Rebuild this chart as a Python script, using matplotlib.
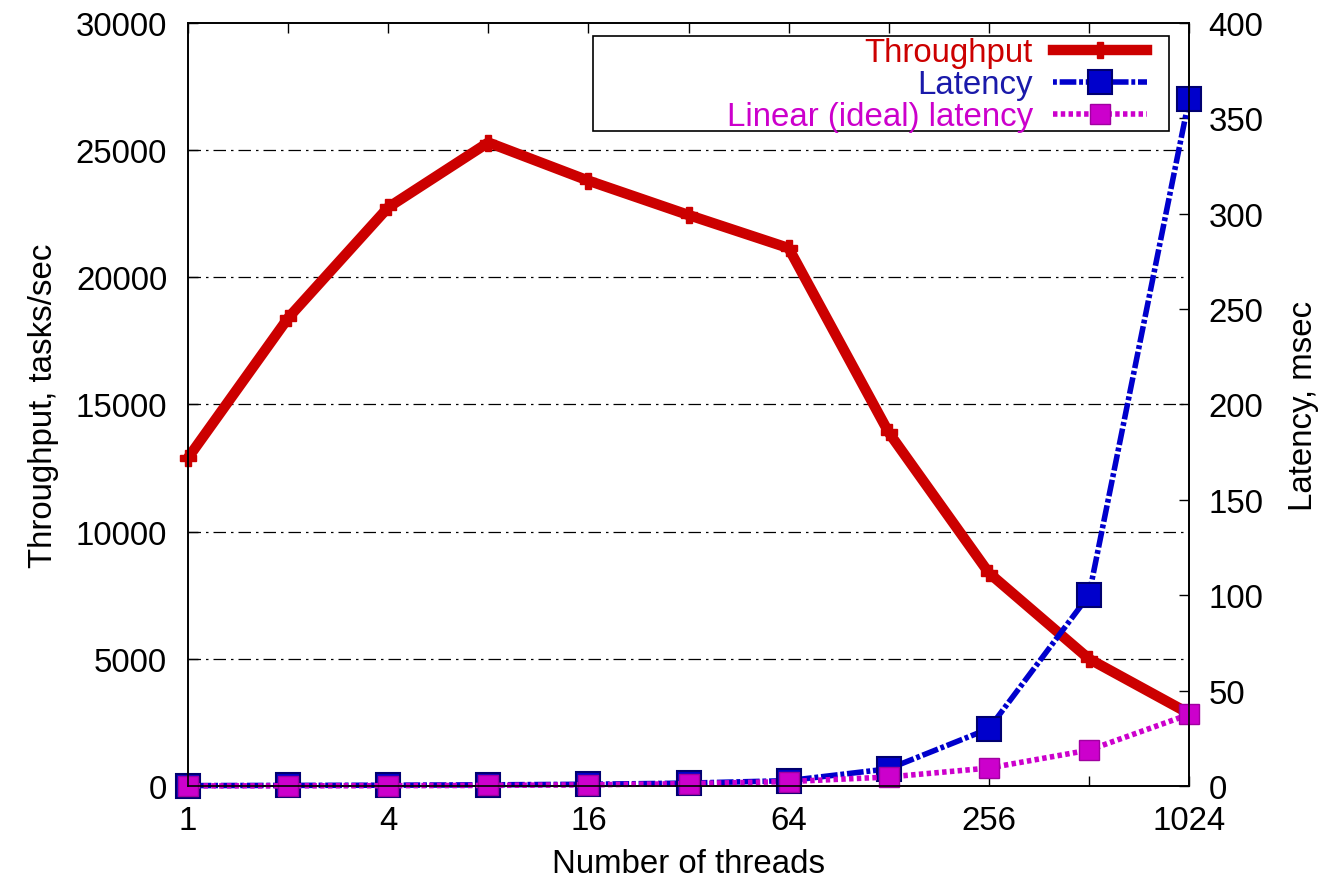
import numpy as np
import matplotlib
matplotlib.use('Agg')
import matplotlib.pyplot as plt
from matplotlib.patches import Rectangle

threads = [1, 2, 4, 8, 16, 32, 64, 128, 256, 512, 1024]
throughput = [12900, 18400, 22750, 25300, 23800, 22450, 21150, 13900, 8380, 5000, 2850]
latency = [0.2, 0.3, 0.4, 0.6, 0.9, 1.5, 2.8, 9, 30, 100, 360]
linear_latency = [0.04, 0.07, 0.15, 0.3, 0.6, 1.2, 2.3, 4.7, 9.4, 18.8, 37.5]
xtick_labels = ['1', '', '4', '', '16', '', '64', '', '256', '', '1024']

plt.rcParams['font.family'] = ['Liberation Sans', 'DejaVu Sans']
fs = 23.8

fig = plt.figure(figsize=(13.26, 8.79), dpi=100)
ax = fig.add_axes([0.1418, 0.1047, 0.7549, 0.868])
ax2 = ax.twinx()

red = '#cc0000'
blue = '#0000cc'
mag = '#cc00cc'

l1, = ax.plot(threads, throughput, color=red, lw=7.5, marker='P', ms=12,
              mec=red, label='Throughput', solid_joinstyle='round', clip_on=False)
l2, = ax2.plot(threads, latency, color=blue, lw=4, marker='s', ms=17,
               mec='#000070', mew=1.5, dashes=(0.7, 0.5, 3, 0.5),
               label='Latency', clip_on=False)
l3, = ax2.plot(threads, linear_latency, color=mag, lw=4, marker='s', ms=14,
               mec='#a000a0', mew=1.0, dashes=(0.8, 0.6),
               label='Linear (ideal) latency', clip_on=False)

ax.set_xscale('log', base=2)
ax.set_xlim(1, 1024)
ax.set_ylim(0, 30000)
ax2.set_ylim(0, 400)

ax.set_xticks(threads)
ax.set_xticklabels(xtick_labels)
ax.xaxis.set_minor_locator(matplotlib.ticker.NullLocator())
ax.set_yticks(np.arange(0, 30001, 5000))
ax2.set_yticks(np.arange(0, 401, 50))

for gy in range(5000, 30000, 5000):
    ax.axhline(gy, color='black', lw=0.9, dashes=(10, 4, 2, 4), zorder=0.5)

ax.tick_params(axis='x', direction='in', length=7, width=1, top=True,
               labelsize=fs, pad=14)
ax.tick_params(axis='y', direction='in', length=7, width=1, right=False,
               labelsize=fs, pad=15)
ax2.tick_params(axis='y', direction='in', length=7, width=1,
                labelsize=fs, pad=14)

for a in (ax, ax2):
    for s in a.spines.values():
        s.set_linewidth(1.2)

ax.set_xlabel('Number of threads', fontsize=fs, labelpad=8)
ax.set_ylabel('Throughput, tasks/sec', fontsize=fs, labelpad=12)
ax2.set_ylabel('Latency, msec', fontsize=fs, labelpad=18)

# key box drawn like gnuplot
ax2.add_patch(Rectangle((0.4046, 0.8585), 0.5754, 0.1245, transform=ax2.transAxes,
                        fill=True, facecolor='white', edgecolor='black', lw=1.2,
                        zorder=5))
leg = ax2.legend(handles=[l1, l2, l3], loc='upper right',
                 bbox_to_anchor=(0.958, 0.981), frameon=False, markerfirst=False,
                 fontsize=fs, handlelength=2.85, handletextpad=0.6,
                 labelspacing=0.03, borderpad=0, borderaxespad=0, numpoints=1)
leg.set_zorder(6)
for t, c in zip(leg.get_texts(), [red, '#1a1aaa', mag]):
    t.set_color(c)

fig.savefig('out.png', dpi=100)
